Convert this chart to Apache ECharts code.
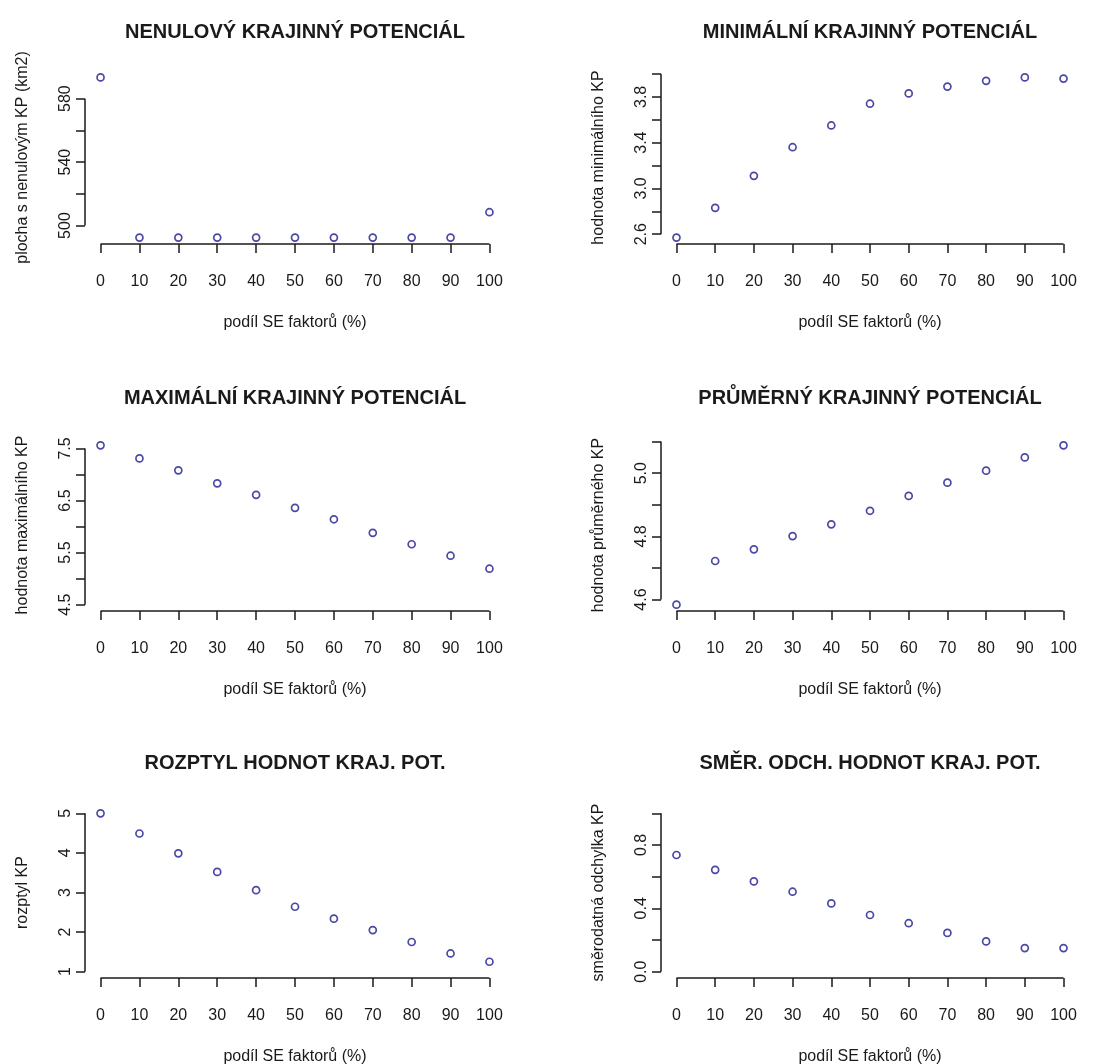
<!DOCTYPE html>
<html>
<head>
<meta charset="utf-8">
<script src="https://cdn.jsdelivr.net/npm/echarts@6/dist/echarts.min.js"></script>
<style>
html,body{margin:0;padding:0;background:#ffffff;}
#chart{width:1114px;height:1064px;}
</style>
</head>
<body>
<div id="chart"></div>
<script>
// ---------- data ----------
const xValues = [0, 10, 20, 30, 40, 50, 60, 70, 80, 90, 100];
const xTickLabels = ['0', '10', '20', '30', '40', '50', '60', '70', '80', '90', '100'];
const xAxisTitle = 'podíl SE faktorů (%)';

const panelTitles = [
  'NENULOVÝ KRAJINNÝ POTENCIÁL',
  'MINIMÁLNÍ KRAJINNÝ POTENCIÁL',
  'MAXIMÁLNÍ KRAJINNÝ POTENCIÁL',
  'PRŮMĚRNÝ KRAJINNÝ POTENCIÁL',
  'ROZPTYL HODNOT KRAJ. POT.',
  'SMĚR. ODCH. HODNOT KRAJ. POT.'
];
const yAxisTitles = [
  'plocha s nenulovým KP (km2)',
  'hodnota minimálního KP',
  'hodnota maximálního KP',
  'hodnota průměrného KP',
  'rozptyl KP',
  'směrodatná odchylka KP'
];

const nenulovy  = [593.4, 492.4, 492.4, 492.4, 492.4, 492.4, 492.4, 492.4, 492.4, 492.4, 508.4];
const minimalni = [2.57, 2.83, 3.11, 3.36, 3.55, 3.74, 3.83, 3.89, 3.94, 3.97, 3.96];
const maximalni = [7.56, 7.31, 7.08, 6.83, 6.61, 6.36, 6.14, 5.88, 5.66, 5.44, 5.19];
const prumerny  = [4.584, 4.722, 4.759, 4.801, 4.838, 4.881, 4.928, 4.970, 5.008, 5.050, 5.088];
const rozptyl   = [5.00, 4.49, 3.99, 3.52, 3.06, 2.64, 2.34, 2.05, 1.75, 1.46, 1.25];
const smerodatna = [0.737, 0.643, 0.570, 0.505, 0.431, 0.358, 0.306, 0.245, 0.191, 0.149, 0.149];

// y axis ticks and the labels R printed (others hidden to avoid overlap)
const yTicks1 = [500, 520, 540, 560, 580];
const yLabels1 = ['500', '540', '580'];
const yTicks2 = [2.6, 2.8, 3.0, 3.2, 3.4, 3.6, 3.8, 4.0];
const yLabels2 = ['2.6', '3.0', '3.4', '3.8'];
const yTicks3 = [4.5, 5.0, 5.5, 6.0, 6.5, 7.0, 7.5];
const yLabels3 = ['4.5', '5.5', '6.5', '7.5'];
const yTicks4 = [4.6, 4.7, 4.8, 4.9, 5.0, 5.1];
const yLabels4 = ['4.6', '4.8', '5.0'];
const yTicks5 = [1, 2, 3, 4, 5];
const yLabels5 = ['1', '2', '3', '4', '5'];
const yTicks6 = [0.0, 0.2, 0.4, 0.6, 0.8, 1.0];
const yLabels6 = ['0.0', '0.4', '0.8'];

// fixed ylim used in the original plots (null = range of the data)
const yLimits3 = [4.5, 7.5];
const yLimits5 = [1, 5];
const yLimits6 = [0, 1];

// ---------- layout ----------
const panels = [
  { values: nenulovy,   ticks: yTicks1, labels: yLabels1, lim: null },
  { values: minimalni,  ticks: yTicks2, labels: yLabels2, lim: null },
  { values: maximalni,  ticks: yTicks3, labels: yLabels3, lim: yLimits3 },
  { values: prumerny,   ticks: yTicks4, labels: yLabels4, lim: null },
  { values: rozptyl,    ticks: yTicks5, labels: yLabels5, lim: yLimits5 },
  { values: smerodatna, ticks: yTicks6, labels: yLabels6, lim: yLimits6 }
];
const colLeft = [85, 661];
const colWidth = [420, 418];
const rowTop = [71, 439, 807];
const rowHeight = [173, 172, 171];
const titleTop = [22, 388, 753];

const TEXT = '#1a1a1a';
const AXIS = '#1a1a1a';
const POINT = '#1e1a8e';
const FONT = '"Liberation Sans", Arial, sans-serif';

function pad(lo, hi) { const d = (hi - lo) * 0.04; return [lo - d, hi + d]; }
const xRange = pad(xValues[0], xValues[xValues.length - 1]);

const grids = [], xAxes = [], yAxes = [], series = [], titles = [];
panels.forEach((p, i) => {
  const col = i % 2, row = Math.floor(i / 2);
  grids.push({ left: colLeft[col], top: rowTop[row], width: colWidth[col], height: rowHeight[row], containLabel: false, outerBoundsMode: 'none' });
  const lo = p.lim ? Math.min(p.lim[0], ...p.values) : Math.min(...p.values);
  const hi = p.lim ? Math.max(p.lim[1], ...p.values) : Math.max(...p.values);
  const yRange = pad(lo, hi);
  xAxes.push({
    type: 'value', gridIndex: i, min: xRange[0], max: xRange[1],
    splitLine: { show: false }, axisLine: { show: false, onZero: false },
    axisTick: { show: true, customValues: xValues, length: 9, lineStyle: { color: AXIS, width: 1.5 } },
    axisLabel: { show: true, customValues: xValues, margin: 30, color: TEXT, fontSize: 16, fontFamily: FONT,
      formatter: v => xTickLabels[xValues.indexOf(v)] ?? '' },
    name: xAxisTitle, nameLocation: 'middle', nameGap: 71,
    nameTextStyle: { color: TEXT, fontSize: 16, fontFamily: FONT }
  });
  const labelVals = p.labels.map(Number);
  yAxes.push({
    type: 'value', gridIndex: i, min: yRange[0], max: yRange[1],
    splitLine: { show: false }, axisLine: { show: false, onZero: false },
    axisTick: { show: true, customValues: p.ticks, length: 9, lineStyle: { color: AXIS, width: 1.5 } },
    axisLabel: { show: true, customValues: labelVals, rotate: 90, margin: 11, color: TEXT, fontSize: 16, fontFamily: FONT,
      formatter: v => { const k = labelVals.findIndex(t => Math.abs(t - v) < 1e-9); return k >= 0 ? p.labels[k] : ''; } },
    name: yAxisTitles[i], nameLocation: 'middle', nameGap: 54, nameRotate: 90,
    nameTextStyle: { color: TEXT, fontSize: 16, fontFamily: FONT }
  });
  series.push({
    type: 'scatter', xAxisIndex: i, yAxisIndex: i, clip: false,
    data: xValues.map((x, k) => [x, p.values[k]]),
    symbol: 'circle', symbolSize: 7,
    itemStyle: { color: 'rgba(0,0,0,0)', borderColor: POINT, borderWidth: 1.7 },
    silent: true,
    markLine: {
      silent: true, symbol: ['none', 'none'], label: { show: false }, animation: false,
      lineStyle: { color: AXIS, width: 1.5, type: 'solid' },
      data: [
        [{ coord: [xValues[0], yRange[0]] }, { coord: [xValues[xValues.length - 1], yRange[0]] }],
        [{ coord: [xRange[0], p.ticks[0]] }, { coord: [xRange[0], p.ticks[p.ticks.length - 1]] }]
      ]
    }
  });
  titles.push({
    text: panelTitles[i], left: colLeft[col] + colWidth[col] / 2, top: titleTop[row], textAlign: 'center', padding: 0,
    textStyle: { color: TEXT, fontSize: 20, fontWeight: 'bold', fontFamily: FONT }
  });
});

const chart = echarts.init(document.getElementById('chart'), null, { renderer: 'canvas' });
chart.setOption({
  backgroundColor: '#ffffff',
  animation: false,
  title: titles,
  grid: grids,
  xAxis: xAxes,
  yAxis: yAxes,
  series: series
});
</script>
</body>
</html>
